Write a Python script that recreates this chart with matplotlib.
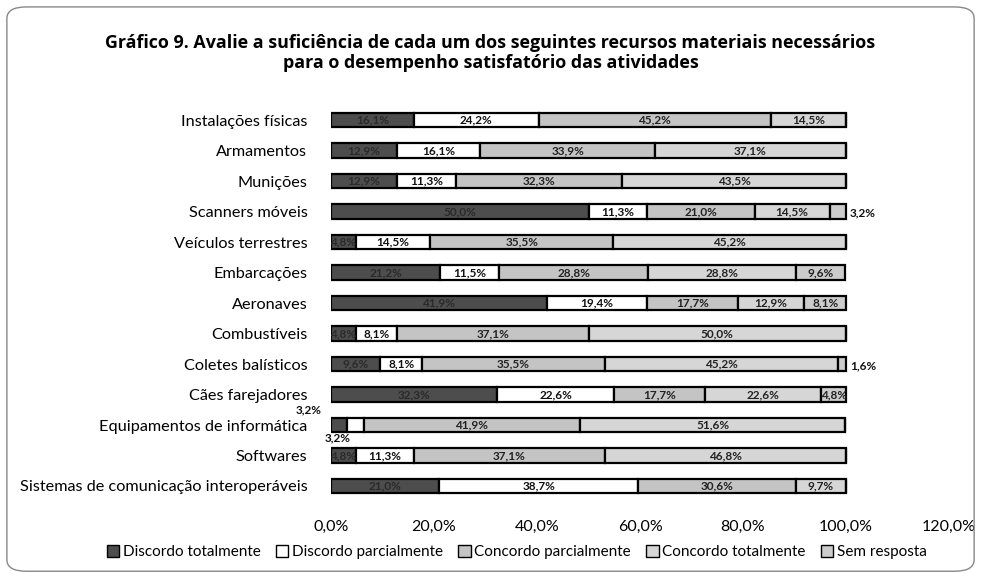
import matplotlib
matplotlib.use("Agg")
import matplotlib.pyplot as plt
from matplotlib.patches import FancyBboxPatch, Patch
import numpy as np

plt.rcParams['font.family'] = ['Lato', 'DejaVu Sans']

categories = [
    "Instalações físicas", "Armamentos", "Munições", "Scanners móveis",
    "Veículos terrestres", "Embarcações", "Aeronaves", "Combustíveis",
    "Coletes balísticos", "Cães farejadores", "Equipamentos de informática",
    "Softwares", "Sistemas de comunicação interoperáveis",
]
series_names = ["Discordo totalmente", "Discordo parcialmente",
                "Concordo parcialmente", "Concordo totalmente", "Sem resposta"]
discordo_totalmente = [16.1, 12.9, 12.9, 50.0, 4.8, 21.2, 41.9, 4.8, 9.6, 32.3, 3.2, 4.8, 21.0]
discordo_parcialmente = [24.2, 16.1, 11.3, 11.3, 14.5, 11.5, 19.4, 8.1, 8.1, 22.6, 3.2, 11.3, 38.7]
concordo_parcialmente = [45.2, 33.9, 32.3, 21.0, 35.5, 28.8, 17.7, 37.1, 35.5, 17.7, 41.9, 37.1, 30.6]
concordo_totalmente = [14.5, 37.1, 43.5, 14.5, 45.2, 28.8, 12.9, 50.0, 45.2, 22.6, 51.6, 46.8, 9.7]
sem_resposta = [0, 0, 0, 3.2, 0, 9.6, 8.1, 0, 1.6, 4.8, 0, 0, 0]
x_ticks = [0, 0.2, 0.4, 0.6, 0.8, 1.0, 1.2]
x_tick_labels = ["0,0%", "20,0%", "40,0%", "60,0%", "80,0%", "100,0%", "120,0%"]
title = ("Gráfico 9. Avalie a suficiência de cada um dos seguintes recursos materiais necessários\n"
         "para o desempenho satisfatório das atividades")

series = [discordo_totalmente, discordo_parcialmente, concordo_parcialmente,
          concordo_totalmente, sem_resposta]
colors = ["#4d4d4d", "#ffffff", "#c4c4c4", "#d6d6d6", "#cccccc"]
text_colors = ["#2a2a2a", "#111111", "#222222", "#222222", "#222222"]

fig = plt.figure(figsize=(9.81, 5.77), dpi=100)
fig.patch.set_facecolor("white")
ax = fig.add_axes([0.3374, 0.126, 0.63, 0.6977])

y = np.arange(len(categories))
left = np.zeros(len(categories))
bars = []
for vals, col in zip(series, colors):
    v = np.array(vals) / 100.0
    ax.barh(y, v, left=left, height=0.475, color=col, edgecolor="black", linewidth=1.6)
    bars.append((v, left.copy()))
    left = left + v

def fmt(p):
    return f"{p:.1f}%".replace(".", ",")

for si, (v, l) in enumerate(bars):
    for i in range(len(categories)):
        val = series[si][i]
        if val <= 0:
            continue
        cat = categories[i]
        cx = l[i] + v[i] / 2
        if cat == "Equipamentos de informática" and si == 0:
            ax.text(-0.043, i - 0.5, fmt(val), ha="center", va="center", fontsize=8.5,
                    fontweight="bold", color="#111111", clip_on=False)
            continue
        if cat == "Equipamentos de informática" and si == 1:
            ax.text(0.012, i + 0.42, fmt(val), ha="center", va="center", fontsize=8.5,
                    fontweight="bold", color="#111111", clip_on=False)
            continue
        if si == 4 and val < 4:
            ax.text(l[i] + v[i] + 0.008, i + 0.05, fmt(val), ha="left", va="center",
                    fontsize=8.5, fontweight="bold", color="#111111")
            continue
        ax.text(cx, i, fmt(val), ha="center", va="center", fontsize=8.5,
                fontweight="bold", color=text_colors[si])

ax.set_xlim(0, 1.2)
ax.set_ylim(12.6, -0.6)
ax.set_yticks(y)
ax.set_yticklabels(categories, fontsize=11.7)
ax.set_xticks(x_ticks)
ax.set_xticklabels(x_tick_labels, fontsize=11.5)
ax.tick_params(axis="both", length=0)
ax.tick_params(axis="x", pad=11)
ax.tick_params(axis="y", pad=17)
for s in ax.spines.values():
    s.set_visible(False)

fig.text(0.5, 0.908, title, ha="center", va="center", fontsize=12.9,
         fontweight="bold", linespacing=1.12, family=["Open Sans", "DejaVu Sans"])

handles = [Patch(facecolor=c, edgecolor="black", linewidth=1.0) for c in colors]
fig.legend(handles, series_names, loc="center", bbox_to_anchor=(0.527, 0.043), ncol=5,
           frameon=False, fontsize=11, handlelength=0.8, handleheight=0.8,
           handletextpad=0.25, columnspacing=1.0)

border = FancyBboxPatch((0.007, 0.01), 0.986, 0.978, boxstyle="round,pad=0,rounding_size=0.02",
                        transform=fig.transFigure, facecolor="none", edgecolor="#888888",
                        linewidth=1.0)
fig.patches.append(border)

fig.savefig("out.png", dpi=100)
